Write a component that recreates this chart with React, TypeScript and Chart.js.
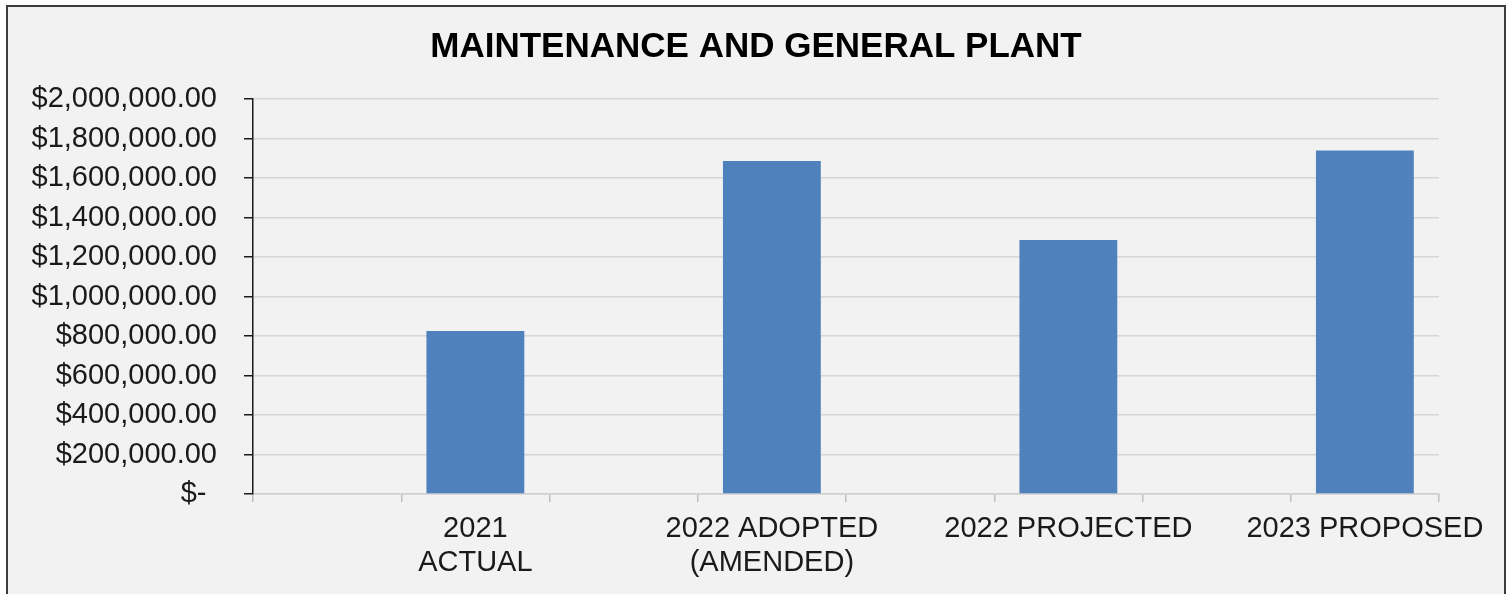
import React, { useEffect, useRef } from 'react';
import { Chart, registerables } from 'chart.js';

Chart.register(...registerables);

// Excel-style category axis: blank slots between the real categories
const categories: (string | string[])[] = [
  '',
  ['2021', 'ACTUAL'],
  '',
  ['2022 ADOPTED', '(AMENDED)'],
  '',
  '2022 PROJECTED',
  '',
  '2023 PROPOSED',
];

const amounts: (number | null)[] = [null, 825000, null, 1686000, null, 1286000, null, 1739000];

const yTickValues = [0, 200000, 400000, 600000, 800000, 1000000, 1200000, 1400000, 1600000, 1800000, 2000000];
const yTickLabels = [
  '$- \u200A',
  '$200,000.00',
  '$400,000.00',
  '$600,000.00',
  '$800,000.00',
  '$1,000,000.00',
  '$1,200,000.00',
  '$1,400,000.00',
  '$1,600,000.00',
  '$1,800,000.00',
  '$2,000,000.00',
];

const chartTitle = 'MAINTENANCE AND GENERAL PLANT';

const FONT = '"Liberation Sans", Arial, Helvetica, sans-serif';
const W = 1496;
const H = 588;

export default function App() {
  const ref = useRef<HTMLCanvasElement | null>(null);

  useEffect(() => {
    if (!ref.current) return;
    const chart = new Chart(ref.current, {
      type: 'bar',
      data: {
        labels: categories as any,
        datasets: [
          {
            label: 'Amount',
            data: amounts,
            backgroundColor: '#4f81bd',
            borderWidth: 0,
            barPercentage: 0.66,
            categoryPercentage: 1,
          },
        ],
      },
      options: {
        responsive: false,
        animation: false,
        layout: { padding: { left: 0, right: 0, top: 0, bottom: 0 } },
        plugins: {
          legend: { display: false },
          tooltip: { enabled: false },
          title: {
            display: true,
            text: chartTitle,
            color: '#000000',
            font: { family: FONT, size: 35, weight: 'bold', lineHeight: 1.2 },
            padding: { top: 19, bottom: 31 },
          },
        },
        scales: {
          x: {
            offset: true,
            grid: {
              offset: true,
              drawOnChartArea: false,
              drawTicks: true,
              tickLength: 8,
              color: '#bfbfbf',
              tickColor: '#bfbfbf',
              lineWidth: 1.5,
            },
            border: { display: true, color: '#cfcfcf', width: 1.5 },
            ticks: {
              autoSkip: false,
              maxRotation: 0,
              minRotation: 0,
              padding: 10,
              color: '#1a1a1a',
              font: { family: FONT, size: 29, lineHeight: 1.17 },
            },
            afterFit: (scale: any) => {
              scale.height = 101;
            },
          },
          y: {
            min: 0,
            max: 2000000,
            afterBuildTicks: (scale: any) => {
              scale.ticks = yTickValues.map((v) => ({ value: v }));
            },
            grid: {
              color: '#d6d6d6',
              lineWidth: 1.5,
              tickColor: '#1a1a1a',
              tickLength: 9,
              drawTicks: true,
            },
            border: { display: true, color: '#1a1a1a', width: 1.5 },
            ticks: {
              padding: 27,
              color: '#1a1a1a',
              font: { family: FONT, size: 29, lineHeight: 1.2 },
              callback: (_v: any, i: number) => yTickLabels[i],
            },
            afterFit: (scale: any) => {
              scale.width = 245;
            },
          },
          // empty right-hand spacer so the title stays centred on the whole frame
          spacer: {
            type: 'linear',
            position: 'right',
            display: true,
            grid: { display: false, drawTicks: false },
            border: { display: false },
            ticks: { display: false },
            afterFit: (scale: any) => {
              scale.width = 65;
            },
          },
        },
      },
    });
    return () => chart.destroy();
  }, []);

  return (
    <div
      style={{
        position: 'absolute',
        left: 6,
        top: 5,
        width: W + 4,
        height: H + 4,
        boxSizing: 'border-box',
        border: '2px solid #3c3c3c',
        background: '#f2f2f2',
      }}
    >
      <canvas ref={ref} width={W} height={H} style={{ display: 'block', width: W, height: H }} />
    </div>
  );
}
